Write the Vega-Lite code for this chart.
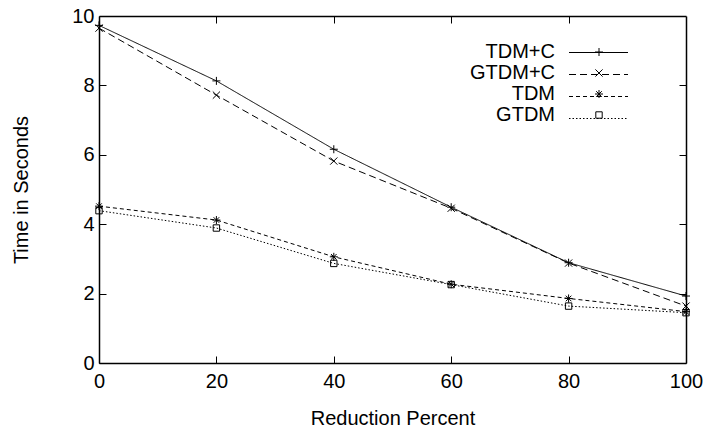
{
  "$schema": "https://vega.github.io/schema/vega-lite/v6.json",
  "autosize": {"type": "none"},
  "width": 587,
  "height": 347,
  "padding": {"left": 99, "top": 16, "right": 18, "bottom": 67},
  "background": "white",
  "config": {
    "font": "Liberation Sans",
    "view": {"stroke": null},
    "axis": {"grid": false, "domainColor": "black", "domainWidth": 1.5, "tickColor": "black", "tickWidth": 1, "tickSize": -7, "labelColor": "black", "titleColor": "black", "labelFontSize": 20, "titleFontSize": 20, "titleFontWeight": "normal", "labelFont": "Liberation Sans", "titleFont": "Liberation Sans"}
  },
  "data": {"values": [
    {"x": 0, "series": "TDM+C", "y": 9.73},
    {"x": 20, "series": "TDM+C", "y": 8.13},
    {"x": 40, "series": "TDM+C", "y": 6.16},
    {"x": 60, "series": "TDM+C", "y": 4.49},
    {"x": 80, "series": "TDM+C", "y": 2.89},
    {"x": 100, "series": "TDM+C", "y": 1.93},
    {"x": 0, "series": "GTDM+C", "y": 9.65},
    {"x": 20, "series": "GTDM+C", "y": 7.72},
    {"x": 40, "series": "GTDM+C", "y": 5.82},
    {"x": 60, "series": "GTDM+C", "y": 4.46},
    {"x": 80, "series": "GTDM+C", "y": 2.88},
    {"x": 100, "series": "GTDM+C", "y": 1.64},
    {"x": 0, "series": "TDM", "y": 4.52},
    {"x": 20, "series": "TDM", "y": 4.12},
    {"x": 40, "series": "TDM", "y": 3.06},
    {"x": 60, "series": "TDM", "y": 2.27},
    {"x": 80, "series": "TDM", "y": 1.86},
    {"x": 100, "series": "TDM", "y": 1.48},
    {"x": 0, "series": "GTDM", "y": 4.39},
    {"x": 20, "series": "GTDM", "y": 3.89},
    {"x": 40, "series": "GTDM", "y": 2.87},
    {"x": 60, "series": "GTDM", "y": 2.26},
    {"x": 80, "series": "GTDM", "y": 1.64},
    {"x": 100, "series": "GTDM", "y": 1.45}
  ]},
  "resolve": {"axis": {"x": "independent", "y": "independent"}},
  "layer": [
    {
      "mark": {"type": "line", "color": "black", "strokeWidth": 1},
      "encoding": {
        "x": {"field": "x", "type": "quantitative", "scale": {"domain": [0, 100], "nice": false},
              "axis": {"orient": "bottom", "values": [0, 20, 40, 60, 80, 100], "title": "Reduction Percent", "labelPadding": 15, "titlePadding": 17, "labelFlush": false}},
        "y": {"field": "y", "type": "quantitative", "scale": {"domain": [0, 10], "nice": false},
              "axis": {"orient": "left", "values": [0, 2, 4, 6, 8, 10], "title": "Time in Seconds", "labelPadding": 12, "titlePadding": 40, "labelFlush": false}},
        "strokeDash": {"field": "series", "type": "nominal",
          "scale": {"domain": ["TDM+C", "GTDM+C", "TDM", "GTDM"], "range": [[1, 0], [7, 4], [4, 3], [1.5, 2]]},
          "legend": {"orient": "none", "legendX": 489, "legendY": 26, "title": null, "padding": 0, "rowPadding": 1,
            "symbolType": "M-2.95,0H2.95", "symbolSize": 400, "symbolStrokeColor": "black", "symbolStrokeWidth": 1,
            "labelFontSize": 20, "labelExpr": "' '", "labelAlign": "left", "labelOffset": 45}}
      }
    },
    {
      "mark": {"type": "point", "filled": false, "color": "black", "strokeWidth": 1, "size": 64, "opacity": 1},
      "encoding": {
        "x": {"field": "x", "type": "quantitative", "scale": {"domain": [0, 100], "nice": false},
              "axis": {"orient": "top", "values": [20, 40, 60, 80], "labels": false, "title": null}},
        "y": {"field": "y", "type": "quantitative", "scale": {"domain": [0, 10], "nice": false},
              "axis": {"orient": "right", "values": [2, 4, 6, 8], "labels": false, "title": null}},
        "shape": {"field": "series", "type": "nominal", "sort": ["TDM+C", "GTDM+C", "TDM", "GTDM"],
          "scale": {"range": ["M-1,0H1M0,-1V1", "M-0.9,-0.9L0.9,0.9M-0.9,0.9L0.9,-0.9", "M-1,0H1M0,-1V1M-0.7,-0.7L0.7,0.7M-0.7,0.7L0.7,-0.7", "M-0.8,-0.8H0.8V0.8H-0.8Z"]},
          "legend": {"orient": "none", "legendX": 490, "legendY": 26, "title": null, "padding": 0, "rowPadding": 1,
            "symbolSize": 64, "symbolStrokeColor": "black", "symbolStrokeWidth": 1, "symbolFillColor": "transparent",
            "labelFontSize": 20, "labelColor": "black", "labelAlign": "right", "labelOffset": -54, "labelFont": "Liberation Sans"}}
      }
    }
  ]
}
